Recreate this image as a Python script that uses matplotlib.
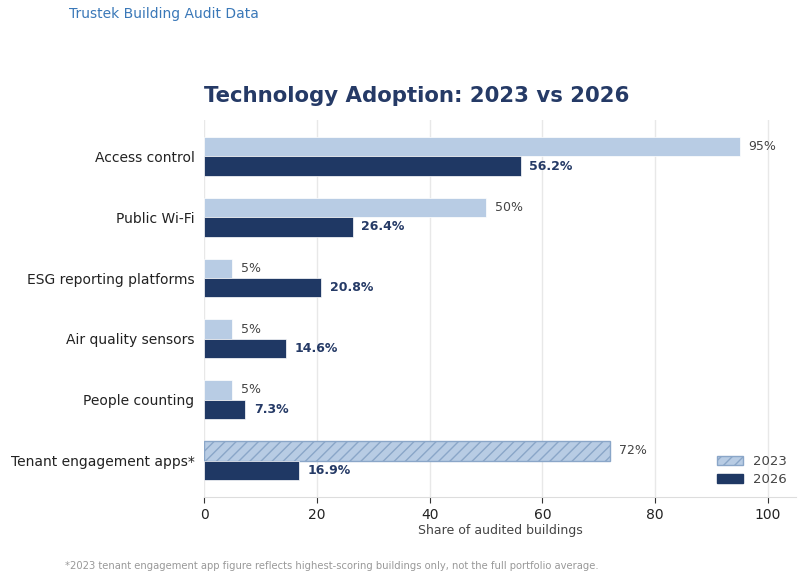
import matplotlib
matplotlib.use("Agg")
import matplotlib.pyplot as plt
import numpy as np
from matplotlib.patches import Patch

categories = ["Access control", "Public Wi-Fi", "ESG reporting platforms",
              "Air quality sensors", "People counting", "Tenant engagement apps*"]
values_2023 = [95, 50, 5, 5, 5, 72]
values_2026 = [56.2, 26.4, 20.8, 14.6, 7.3, 16.9]
labels_2023 = ["95%", "50%", "5%", "5%", "5%", "72%"]
labels_2026 = ["56.2%", "26.4%", "20.8%", "14.6%", "7.3%", "16.9%"]
hatched = [False, False, False, False, False, True]

c23 = "#b8cce4"
c26 = "#1f3864"
title_c = "#253a66"

fig = plt.figure(figsize=(8.1, 5.76), dpi=100)
ax = fig.add_axes([0.252, 0.137, 0.731, 0.655])

y = np.arange(len(categories))
h = 0.32
for i in range(len(categories)):
    if hatched[i]:
        ax.barh(y[i] - h / 2, values_2023[i], height=h, color=c23,
                edgecolor="#8aa6c8", hatch="///", linewidth=1.0, zorder=3)
    else:
        ax.barh(y[i] - h / 2, values_2023[i], height=h, color=c23,
                edgecolor="white", linewidth=0.5, zorder=3)
    ax.barh(y[i] + h / 2, values_2026[i], height=h, color=c26,
            edgecolor="white", linewidth=0.5, zorder=3)
    ax.text(values_2023[i] + 1.5, y[i] - h / 2, labels_2023[i], va="center",
            ha="left", fontsize=9, color="#444444")
    ax.text(values_2026[i] + 1.5, y[i] + h / 2, labels_2026[i], va="center",
            ha="left", fontsize=9, color=title_c, fontweight="bold")

ax.set_xlim(0, 105)
ax.set_ylim(len(categories) - 0.4, -0.6)
ax.set_yticks(y)
ax.set_yticklabels(categories, fontsize=10, color="#222222")
ax.tick_params(axis="y", length=0, pad=7)
ax.set_xticks([0, 20, 40, 60, 80, 100])
ax.tick_params(axis="x", labelsize=10, colors="#222222", length=4, color="#333333")
ax.xaxis.grid(True, color="#e8e8e8", linewidth=1, zorder=0)
ax.set_axisbelow(True)
for s in ["top", "right", "left"]:
    ax.spines[s].set_visible(False)
ax.spines["bottom"].set_color("#dddddd")
ax.set_xlabel("Share of audited buildings", fontsize=9, color="#444444", labelpad=1.5)

handles = [Patch(facecolor=c23, edgecolor="#8aa6c8", hatch="///", label="2023"),
           Patch(facecolor=c26, edgecolor=c26, label="2026")]
ax.legend(handles=handles, loc="lower right", frameon=False, fontsize=9.5,
          labelcolor="#444444", bbox_to_anchor=(1.0, 0.005), labelspacing=0.35,
          handlelength=1.9, borderaxespad=0.3)

ax.set_title("Technology Adoption: 2023 vs 2026", fontsize=15.3, fontweight="bold",
             color=title_c, loc="left", pad=13)
fig.text(0.085, 0.975, "Trustek Building Audit Data", fontsize=10, color="#3a78b8",
         ha="left", va="center")
fig.text(0.08, 0.017, "*2023 tenant engagement app figure reflects highest-scoring buildings only, not the full portfolio average.",
         fontsize=7.2, color="#999999", ha="left", va="center")

fig.savefig("out.png", dpi=100)
